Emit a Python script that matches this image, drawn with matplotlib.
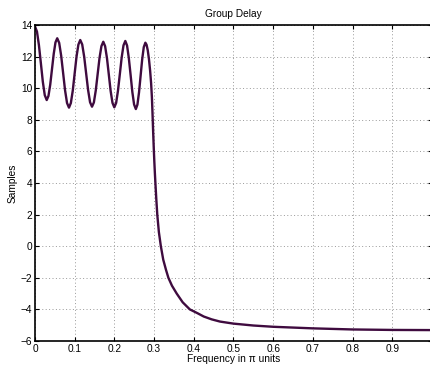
import matplotlib
matplotlib.use("Agg")
import matplotlib.pyplot as plt

# group delay (frequency in pi units, delay in samples)
freq = [0.0, 0.0049, 0.0098, 0.0148, 0.0197, 0.0246, 0.0295,
        0.0339, 0.0384, 0.0428, 0.0472, 0.0516, 0.056,
        0.0609, 0.0659, 0.0708, 0.0757, 0.0807, 0.0856,
        0.0903, 0.0951, 0.0998, 0.1045, 0.1093, 0.114,
        0.1189, 0.1239, 0.1288, 0.1337, 0.1387, 0.1436,
        0.1483, 0.1531, 0.1578, 0.1625, 0.1673, 0.172,
        0.1766, 0.1813, 0.1859, 0.1905, 0.1952, 0.1998,
        0.2044, 0.209, 0.2137, 0.2183, 0.2229, 0.2275,
        0.2319, 0.2363, 0.2408, 0.2452, 0.2496, 0.254,
        0.258, 0.262, 0.266, 0.270, 0.274, 0.278,
        0.281, 0.284, 0.287, 0.290, 0.2925, 0.2945, 0.296, 0.2975,
        0.299, 0.3005, 0.302, 0.3035, 0.3055, 0.308, 0.312, 0.317,
        0.323, 0.330, 0.336, 0.345, 0.357, 0.372, 0.39, 0.41,
        0.425, 0.445, 0.466, 0.5, 0.55, 0.6, 0.7, 0.8, 0.9, 1.0]
delay = [13.9, 13.59, 12.74, 11.58, 10.41, 9.56, 9.25,
         9.51, 10.23, 11.21, 12.18, 12.90, 13.16,
         12.87, 12.06, 10.97, 9.87, 9.06, 8.77,
         9.06, 9.84, 10.91, 11.98, 12.76, 13.05,
         12.77, 11.99, 10.94, 9.89, 9.11, 8.83,
         9.10, 9.86, 10.89, 11.91, 12.66, 12.94,
         12.66, 11.90, 10.87, 9.83, 9.07, 8.79,
         9.07, 9.84, 10.89, 11.94, 12.71, 12.99,
         12.70, 11.91, 10.84, 9.76, 8.97, 8.68,
         8.96, 9.73, 10.78, 11.83, 12.60, 12.88,
         12.75, 12.4, 11.85, 11.1, 10.3, 9.4, 8.4, 7.3,
         6.3, 5.4, 4.6, 3.9, 3.0, 2.0, 0.9, 0.0,
         -0.85, -1.5, -2.0, -2.5, -3.0, -3.55, -4.0, -4.25,
         -4.45, -4.63, -4.77, -4.9, -5.02, -5.1, -5.2, -5.27, -5.30, -5.31]

xticks = [0, 0.1, 0.2, 0.3, 0.4, 0.5, 0.6, 0.7, 0.8, 0.9, 1.0]
xlabels = ['0', '0.1', '0.2', '0.3', '0.4', '0.5', '0.6', '0.7', '0.8', '0.9', '']
yticks = list(range(-6, 15, 2))

plt.rcParams['font.family'] = ['Liberation Sans', 'DejaVu Sans']
plt.rcParams['font.size'] = 7.3

fig = plt.figure(figsize=(4.31, 3.65), dpi=100)
ax = fig.add_axes([35 / 431, 24 / 365, 397 / 431, 316 / 365])

ax.plot(freq, delay, color='#3f0b3f', linewidth=1.7)

ax.set_xlim(0, 1)
ax.set_ylim(-6, 14)
ax.set_xticks(xticks)
ax.set_xticklabels(xlabels)
ax.set_yticks(yticks)
ax.tick_params(direction='in', top=True, right=True, length=3, width=0.8, pad=2)
ax.grid(True, linestyle=(0, (1, 2.5)), color='#999999', linewidth=0.7)
for s in ax.spines.values():
    s.set_linewidth(1.2)

ax.set_title('Group Delay', fontsize=7.3, pad=6)
ax.set_xlabel('Frequency in π units', labelpad=0)
ax.set_ylabel('Samples', labelpad=2)

fig.savefig('out.png', dpi=100)
